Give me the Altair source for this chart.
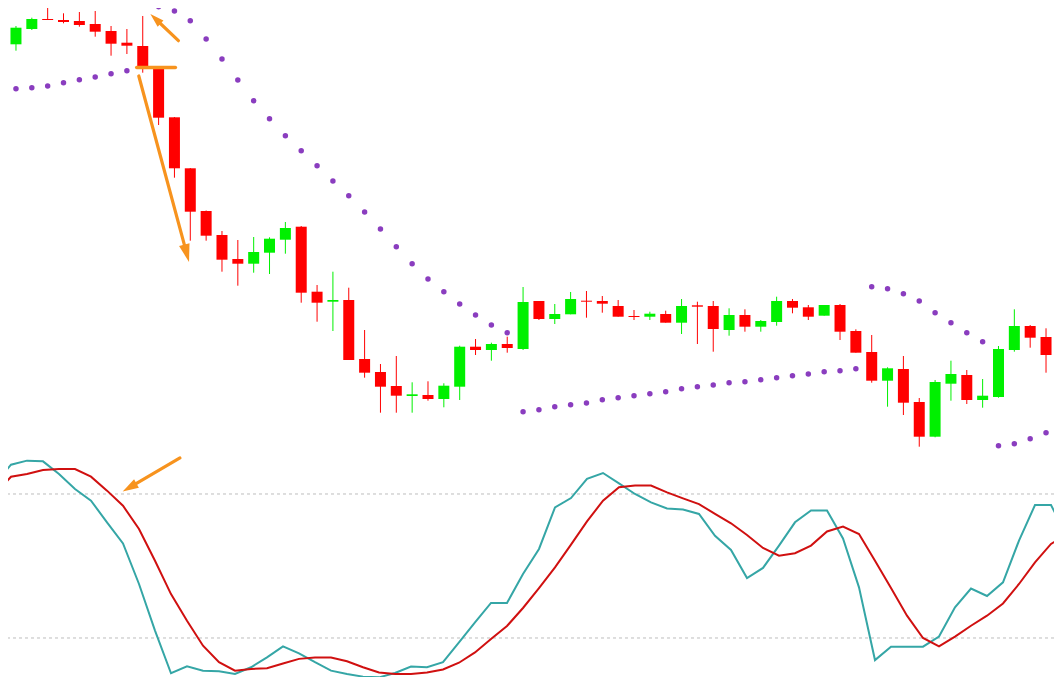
import math
import altair as alt
import pandas as pd

# ---------------- data ----------------
idx = list(range(66))
opens = [405.7, 421, 431, 430, 429, 426, 419, 407.3, 404, 381.7,
         332.7, 281.7, 239, 215, 191, 186.3, 197.3, 210.3, 223.3, 158.3,
         148.3, 150, 91, 78, 64, 54, 55, 51, 63.3, 103.3,
         100, 106, 101, 149, 131, 135.7, 149.3, 149, 144, 134,
         133.3, 136, 127.3, 144.7, 144, 120, 135, 123.3, 128, 149,
         142.7, 134.3, 145, 119, 98, 69.3, 81, 48, 13.3, 66.3,
         75, 50, 53, 100, 124, 113]
highs = [424, 432.3, 445, 436.7, 438, 439, 424, 421, 434, 382,
         333, 282, 239.5, 219, 210, 213, 212.7, 228, 224, 165,
         178.3, 162.3, 120, 86, 94, 67.7, 68.7, 66.7, 104.3, 111,
         107.3, 113.3, 163, 149, 146, 158, 159, 154, 150, 140,
         138.3, 139.3, 151, 148.3, 149, 141.7, 140.7, 130, 153.3, 151,
         145, 145, 146, 120.7, 115, 82.7, 94, 52, 70, 89.3,
         80, 71, 104, 140.7, 125, 121.7]
lows = [399.3, 420, 430, 426.7, 423.3, 413.3, 394.3, 396, 377.3, 325,
        272.3, 209.3, 209.3, 178.3, 164.3, 177.3, 176, 196.3, 147.3, 128.3,
        119, 90, 72.3, 37.3, 37.3, 37.3, 49.3, 42.7, 50, 95,
        89.3, 97.3, 100, 130, 126, 135.7, 132.3, 137.3, 133.3, 130,
        130, 127.3, 116, 106, 98.3, 114.3, 118.3, 118.3, 124.3, 136.7,
        130, 134.3, 110, 97.3, 67.3, 43.3, 35, 3.3, 12.7, 49.3,
        46, 42.3, 52.3, 98.3, 102.3, 77.3]
closes = [422.3, 431, 430, 428, 425, 418.3, 406.3, 404.3, 384, 332.3,
          281.7, 238.3, 214.3, 190.3, 186.3, 198, 211.3, 222, 157.3, 147.3,
          150, 90, 77.3, 63.3, 54.3, 55.7, 51, 64.3, 103.3, 100,
          106, 102, 148, 131, 136, 151, 148.3, 146.3, 133.3, 133,
          136.3, 127.3, 144, 143.3, 121, 135, 123.3, 129, 149, 142.3,
          133.3, 145, 118.3, 97.3, 69.3, 81.7, 47.3, 13.3, 68, 76,
          50, 54.3, 101, 124, 112.3, 95]
# parabolic SAR
sar = [361.3, 362.3, 364, 367.3, 370.3, 373, 376.3, 379.3, 445, 443.3,
       439, 429.3, 411, 391, 370, 349.3, 331.3, 314.3, 299.3, 284.3,
       269, 254.3, 238, 221, 203.3, 186.3, 171, 158.3, 146, 135,
       125, 117.3, 38.3, 40.3, 43.3, 45.3, 47, 50.3, 52.3, 54.3,
       56.3, 58.3, 61.3, 63.3, 65, 67.3, 68.3, 70.3, 72.3, 74.3,
       76, 78.3, 79.3, 81.3, 163.3, 161.3, 156.3, 149, 137.3, 127.3,
       117.3, 108.3, 4.3, 6.3, 11.3, 17.3]

# stochastic oscillator (%K teal, %D red), bars -1 .. 66
osc_idx = list(range(-1, 67))
k_line = [84.4, 92.2, 93.9, 93.6, 88.3, 82.1, 77.2, 68.2, 59.4, 42.5,
          23.1, 5.3, 8.2, 6.4, 6.1, 5.0, 7.8, 11.9, 16.5, 13.6,
          9.9, 6.4, 5.0, 3.9, 3.6, 5.4, 8.1, 7.8, 9.9, 18.2,
          26.5, 34.6, 34.6, 46.7, 57.1, 74.4, 78.3, 86.3, 88.75, 84.4,
          80.0, 76.5, 74.0, 73.5, 71.7, 62.6, 56.7, 45.0, 49.2, 58.5,
          68.2, 73.1, 73.1, 61.5, 41.1, 10.8, 16.4, 16.4, 16.4, 20.6,
          32.8, 40.6, 37.5, 43.2, 60.6, 75.4, 75.4, 62.6]
d_line = [79.7, 87.2, 88.3, 90.0, 90.4, 90.4, 87.2, 81.4, 75.1, 65.4,
          52.2, 38.3, 27.2, 16.8, 9.9, 6.4, 7.1, 7.4, 9.4, 11.3,
          11.9, 11.9, 10.3, 7.8, 5.6, 5.0, 5.0, 5.6, 6.9, 9.7,
          14.0, 19.6, 25.0, 32.5, 40.8, 49.4, 58.9, 68.6, 77.2, 82.8,
          83.5, 83.5, 80.7, 78.2, 75.8, 71.7, 67.8, 62.9, 57.5, 54.3,
          55.3, 58.5, 64.4, 66.4, 63.3, 52.2, 40.8, 29.3, 20.0, 16.5,
          20.6, 25.1, 29.3, 34.4, 42.5, 51.5, 59.2, 63.3]
levels = [20, 80]

# annotations (bar index, value): start, tip, head size
price_arrows = [
    (10.25, 409.3, 8.48, 436.0, 196),
    (7.75, 374.0, 10.92, 188.0, 324),
]
price_hline = [(7.62, 10.06, 382.5)]
osc_arrows = [(10.56, 95.0, 6.98, 81.0, 256)]

# ---------------- styling ----------------
UP, DOWN = "#00f000", "#ff0000"
SAR_C = "#8a3dbf"
ORANGE = "#f7931e"
TEAL, RED = "#35a6a6", "#d01010"
GRID = "#bdbdbd"
HEAD = "M0,0L0.6,2L-0.6,2Z"

W, H_TOP, H_BOT = 1046, 442, 227
xscale = alt.Scale(domain=[-0.1875, 65.1875], nice=False, zero=False)
ytop = alt.Scale(domain=[0, 442], nice=False, zero=False)
ybot = alt.Scale(domain=[3.75, 98.33], nice=False, zero=False)
PX_X, PX_TOP, PX_BOT = 16.0, 1.0, 2.4


def arrow_rows(arrows, px_y):
    shafts, heads = [], []
    for x0, y0, x1, y1, sz in arrows:
        dx = (x1 - x0) * PX_X
        dy = -(y1 - y0) * px_y
        L = math.hypot(dx, dy)
        ux, uy = dx / L, dy / L
        ang = math.degrees(math.atan2(ux, -uy)) % 360
        back = 0.6 * math.sqrt(sz)
        ex = x1 - ux * back / PX_X
        ey = y1 + uy * back / px_y
        shafts.append({"x0": x0, "y0": y0, "x1": ex, "y1": ey})
        heads.append({"x": x1, "y": y1, "ang": ang, "sz": sz})
    return pd.DataFrame(shafts), pd.DataFrame(heads)


candles = pd.DataFrame({"i": idx, "open": opens, "high": highs,
                        "low": lows, "close": closes})
candles["dir"] = ["up" if c > o else "down" for o, c in zip(opens, closes)]
sar_df = pd.DataFrame({"i": idx, "sar": sar})
osc = pd.DataFrame({"i": osc_idx, "k": k_line, "d": d_line})
lev = pd.DataFrame({"lev": levels})

color = alt.Color("dir:N", scale=alt.Scale(domain=["up", "down"], range=[UP, DOWN]),
                  legend=None)
X = alt.X("i:Q", scale=xscale, axis=None)

wicks = alt.Chart(candles).mark_rule(strokeWidth=1, clip=True).encode(
    x=X, y=alt.Y("low:Q", scale=ytop, axis=None), y2="high:Q", color=color)
bodies = alt.Chart(candles).mark_bar(width=11, clip=True).encode(
    x=X, y=alt.Y("open:Q", scale=ytop, axis=None), y2="close:Q", color=color)
dots = alt.Chart(sar_df).mark_circle(size=30, opacity=1, color=SAR_C, clip=True).encode(
    x=X, y=alt.Y("sar:Q", scale=ytop, axis=None))

ps, ph = arrow_rows(price_arrows, PX_TOP)
p_shafts = alt.Chart(ps).mark_rule(color=ORANGE, strokeWidth=3.2, strokeCap="round",
                                   clip=True).encode(
    x=alt.X("x0:Q", scale=xscale, axis=None), x2="x1:Q",
    y=alt.Y("y0:Q", scale=ytop, axis=None), y2="y1:Q")
p_heads = alt.Chart(ph).mark_point(shape=HEAD, filled=True, opacity=1, color=ORANGE,
                                   strokeWidth=0, clip=True).encode(
    x=alt.X("x:Q", scale=xscale, axis=None), y=alt.Y("y:Q", scale=ytop, axis=None),
    angle=alt.Angle("ang:Q", scale=None), size=alt.Size("sz:Q", scale=None))
hl = pd.DataFrame(price_hline, columns=["x0", "x1", "y"])
p_hline = alt.Chart(hl).mark_rule(color=ORANGE, strokeWidth=3.5, strokeCap="round",
                                  clip=True).encode(
    x=alt.X("x0:Q", scale=xscale, axis=None), x2="x1:Q",
    y=alt.Y("y:Q", scale=ytop, axis=None))

top = alt.layer(wicks, bodies, dots, p_hline, p_shafts, p_heads).properties(
    width=W, height=H_TOP)

grid = alt.Chart(lev).mark_rule(color=GRID, strokeWidth=1, strokeDash=[3, 3],
                                clip=True).encode(
    y=alt.Y("lev:Q", scale=ybot, axis=None))
k_ln = alt.Chart(osc).mark_line(color=TEAL, strokeWidth=2, clip=True).encode(
    x=X, y=alt.Y("k:Q", scale=ybot, axis=None))
d_ln = alt.Chart(osc).mark_line(color=RED, strokeWidth=2, clip=True).encode(
    x=X, y=alt.Y("d:Q", scale=ybot, axis=None))
os_, oh = arrow_rows(osc_arrows, PX_BOT)
o_shafts = alt.Chart(os_).mark_rule(color=ORANGE, strokeWidth=3.2, strokeCap="round",
                                    clip=True).encode(
    x=alt.X("x0:Q", scale=xscale, axis=None), x2="x1:Q",
    y=alt.Y("y0:Q", scale=ybot, axis=None), y2="y1:Q")
o_heads = alt.Chart(oh).mark_point(shape=HEAD, filled=True, opacity=1, color=ORANGE,
                                   strokeWidth=0, clip=True).encode(
    x=alt.X("x:Q", scale=xscale, axis=None), y=alt.Y("y:Q", scale=ybot, axis=None),
    angle=alt.Angle("ang:Q", scale=None), size=alt.Size("sz:Q", scale=None))

bottom = alt.layer(grid, k_ln, d_ln, o_shafts, o_heads).properties(width=W, height=H_BOT)

chart = alt.vconcat(top, bottom, spacing=0).properties(
    padding=0, background="white").configure_view(stroke=None)

chart.save("out.html", embed_options={"renderer": "svg", "actions": False})
